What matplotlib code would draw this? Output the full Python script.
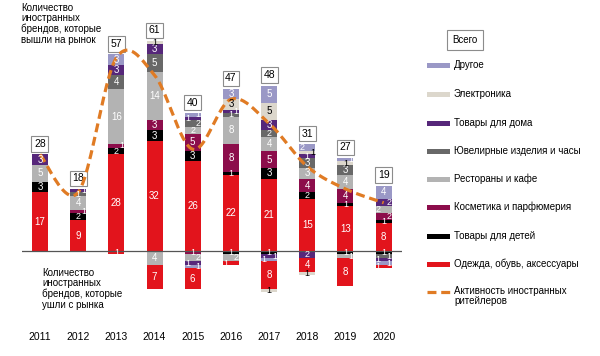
import numpy as np
import matplotlib
matplotlib.use('Agg')
import matplotlib.pyplot as plt
from matplotlib.patches import Rectangle

plt.rcParams['font.family'] = ['Liberation Sans', 'DejaVu Sans']

# Годы
years = ['2011', '2012', '2013', '2014', '2015', '2016', '2017', '2018', '2019', '2020']

# Бренды, которые вышли на рынок (снизу вверх)
odezhda_in = [17, 9, 28, 32, 26, 22, 21, 15, 13, 8]
deti_in = [3, 2, 2, 3, 3, 1, 3, 2, 1, 1]
kosmetika_in = [0, 1, 1, 3, 5, 8, 5, 4, 4, 2]
restorany_in = [5, 4, 16, 14, 2, 8, 4, 3, 4, 2]
yuvelir_in = [0, 1, 4, 5, 2, 1, 2, 3, 3, 0]
dom_in = [3, 1, 3, 3, 1, 1, 3, 1, 0, 2]
elektronika_in = [0, 0, 0, 1, 0, 3, 5, 1, 1, 0]
drugoe_in = [0, 0, 3, 0, 1, 3, 5, 2, 1, 4]

# Бренды, которые ушли с рынка
odezhda_out = [0, 0, 1, 7, 6, 1, 8, 4, 8, 1]
deti_out = [0, 0, 0, 0, 0, 1, 1, 0, 1, 1]
kosmetika_out = [0, 0, 0, 0, 1, 0, 0, 0, 0, 0]
restorany_out = [0, 0, 0, 4, 2, 2, 0, 0, 1, 0]
yuvelir_out = [0, 0, 0, 0, 0, 0, 0, 0, 0, 1]
dom_out = [0, 0, 0, 0, 1, 0, 1, 2, 0, 1]
elektronika_out = [0, 0, 0, 0, 0, 0, 1, 1, 0, 0]
drugoe_out = [0, 0, 0, 0, 1, 0, 1, 0, 0, 1]

# Активность иностранных ритейлеров (пунктирная линия)
activity = [28, 17, 56, 51, 29.5, 44, 37, 24.5, 18, 14]

names = ['Одежда, обувь, аксессуары', 'Товары для детей', 'Косметика и парфюмерия',
         'Рестораны и кафе', 'Ювелирные изделия и часы', 'Товары для дома',
         'Электроника', 'Другое']
colors = ['#e2141c', '#000000', '#8c0d4b', '#b3b3b3', '#686868', '#56277a', '#dcd7cc', '#9a98c6']
line_color = '#e07b24'

entries = [odezhda_in, deti_in, kosmetika_in, restorany_in, yuvelir_in, dom_in, elektronika_in, drugoe_in]
exits = [odezhda_out, deti_out, kosmetika_out, restorany_out, yuvelir_out, dom_out, elektronika_out, drugoe_out]
exit_order = [1, 2, 3, 4, 5, 7, 0, 6]  # порядок сегментов вниз от нуля

fig = plt.figure(figsize=(6, 3.56), dpi=100)
ax = fig.add_axes([22 / 600, 1 - 320 / 356, 380 / 600, 310 / 356])
x = np.arange(len(years))
w = 0.42


def put_label(xi, y0, v, ci, state):
    # подпись сегмента; маленькие сегменты подписываются со сдвигом влево/вправо
    tc = 'black' if ci == 6 else 'white'
    dx = 0
    fs = 7
    if v <= 2:
        if state[0] > 0:
            dx = 0.14 if state[0] % 2 == 1 else -0.14
        state[0] += 1
        fs = 6.5
    else:
        state[0] = 0
    ax.text(xi + dx, y0, str(v), ha='center', va='center', color=tc, fontsize=fs, zorder=5)


# Положительные столбцы
for i in range(len(years)):
    b = 0
    st = [0]
    for ci, vals in enumerate(entries):
        v = vals[i]
        if v == 0:
            continue
        ax.bar(x[i], v, w, bottom=b, color=colors[ci], linewidth=0)
        put_label(x[i], b + v / 2, v, ci, st)
        b += v
    ax.annotate(str(b), (x[i], b), xytext=(0, 4), textcoords='offset points',
                ha='center', va='bottom', fontsize=7.5,
                bbox=dict(boxstyle='square,pad=0.25', fc='white', ec='#8c8c8c', lw=0.8))

# Отрицательные столбцы
for i in range(len(years)):
    b = 0
    st = [0]
    for ci in exit_order:
        v = exits[ci][i]
        if v == 0:
            continue
        ax.bar(x[i], -v, w, bottom=b, color=colors[ci], linewidth=0)
        put_label(x[i], b - v / 2, v, ci, st)
        b -= v

ax.axhline(0, color='#555555', lw=0.9, zorder=3)

# Сглаженная линия (Catmull-Rom)
P = np.column_stack([x, activity]).astype(float)
P = np.vstack([P[0], P, P[-1]])
curve = []
t = np.linspace(0, 1, 25)[:, None]
for k in range(1, len(P) - 2):
    p0, p1, p2, p3 = P[k - 1], P[k], P[k + 1], P[k + 2]
    seg = 0.5 * (2 * p1 + (-p0 + p2) * t + (2 * p0 - 5 * p1 + 4 * p2 - p3) * t ** 2
                 + (-p0 + 3 * p1 - 3 * p2 + p3) * t ** 3)
    curve.append(seg)
curve = np.vstack(curve)
ax.plot(curve[:, 0], curve[:, 1], color=line_color, lw=2.3, linestyle=(0, (2.8, 1.5)), zorder=4)

ax.set_xlim(-0.47, 9.48)
ax.set_ylim(-20, 69.9)
ax.set_xticks(x)
ax.set_xticklabels(years, fontsize=7.5)
ax.tick_params(axis='x', length=0, pad=9)
ax.set_yticks([])
for s in ax.spines.values():
    s.set_visible(False)

# Поясняющие тексты и легенда на отдельной прозрачной оси в пикселях
lax = fig.add_axes([0, 0, 1, 1])
lax.set_xlim(0, 600)
lax.set_ylim(356, 0)
lax.set_axis_off()
lax.patch.set_visible(False)

lax.text(21, 3, 'Количество\nиностранных\nбрендов, которые\nвышли на рынок',
         ha='left', va='top', fontsize=7, linespacing=1.05)
lax.text(42, 268, 'Количество\nиностранных\nбрендов, которые\nушли с рынка',
         ha='left', va='top', fontsize=7, linespacing=1.05)

lax.text(465, 40, 'Всего', ha='center', va='center', fontsize=7,
         bbox=dict(boxstyle='square,pad=0.55', fc='white', ec='#8c8c8c', lw=0.8))

leg_y = [264, 236, 207, 179, 151, 123, 94, 65]
for ci in range(len(names)):
    lax.add_patch(Rectangle((427, leg_y[ci] - 2.5), 23, 5, color=colors[ci], lw=0))
    lax.text(454, leg_y[ci], names[ci], ha='left', va='center', fontsize=7)
lax.plot([427, 450], [292, 292], color=line_color, lw=2.3, linestyle=(0, (2.8, 1.5)))
lax.text(454, 286, 'Активность иностранных\nритейлеров', ha='left', va='top', fontsize=7,
         linespacing=1.05)

fig.savefig('out.png', dpi=100)
